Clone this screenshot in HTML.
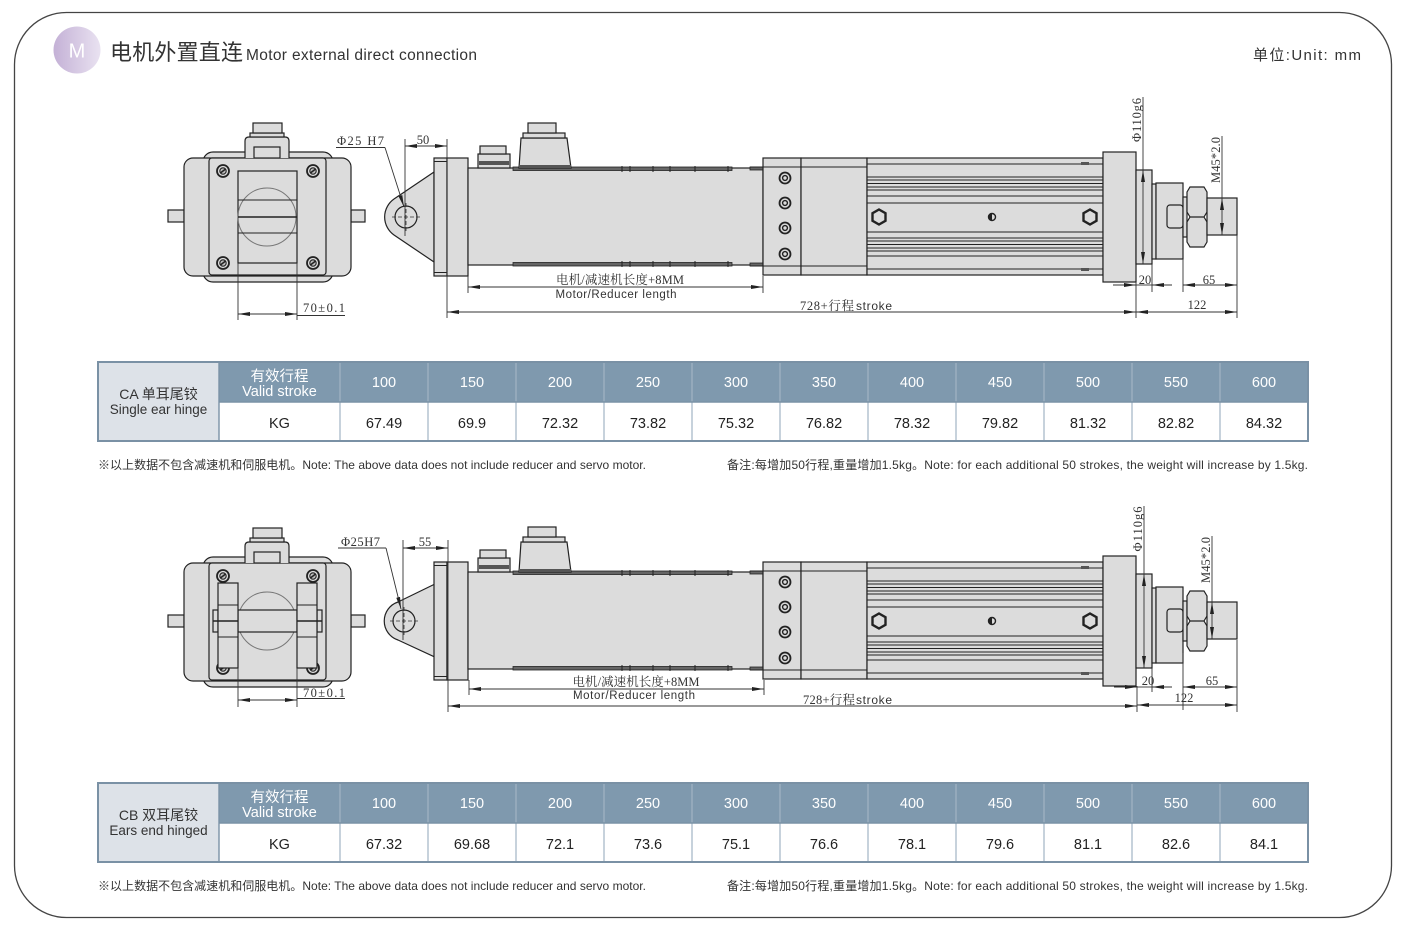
<!DOCTYPE html>
<html><head><meta charset="utf-8">
<style>
html,body{margin:0;padding:0;background:#fff;}
svg{display:block;}
.p{fill:#dcdcdc;stroke:#222;stroke-width:1.2;}
.l{stroke:#222;stroke-width:1;fill:none;}
.d{stroke:#333;stroke-width:0.9;fill:none;}
.t{font-family:"Liberation Serif","Noto Serif CJK SC",serif;font-size:12.5px;fill:#333;}
.s{font-family:"Liberation Sans","Noto Sans CJK SC",sans-serif;}
.hw{font-family:"Liberation Sans","Noto Sans CJK SC",sans-serif;font-size:14.5px;fill:#fff;text-anchor:middle;}
.dv{font-family:"Liberation Sans","Noto Sans CJK SC",sans-serif;font-size:14.5px;fill:#222;text-anchor:middle;}
.nt{font-family:"Liberation Sans","Noto Sans CJK SC",sans-serif;font-size:12px;fill:#333;}
</style></head><body>
<svg width="1408" height="932" viewBox="0 0 1408 932" xmlns="http://www.w3.org/2000/svg">
<defs>
<linearGradient id="gm" x1="0" y1="0" x2="1" y2="0"><stop offset="0" stop-color="#c4b1d6"/><stop offset="1" stop-color="#e9e2f1"/></linearGradient>
<marker id="ar" viewBox="0 0 12 4" refX="12" refY="2" markerWidth="12" markerHeight="4" markerUnits="userSpaceOnUse" orient="auto-start-reverse"><path d="M0,0L12,2L0,4Z" fill="#222"/></marker>
<g id="ss"><circle r="5.5" fill="#dcdcdc" stroke="#222" stroke-width="1.8"/><circle r="2.4" fill="none" stroke="#222" stroke-width="1.4"/></g>
<g id="se"><circle r="6" fill="#dcdcdc" stroke="#222" stroke-width="1.8"/><circle r="3.2" fill="#bbb" stroke="#222" stroke-width="1.1"/><line x1="-2.6" y1="2" x2="2.6" y2="-2" stroke="#222" stroke-width="1.5"/></g>
<polygon id="hx" points="0,-7.5 6.5,-3.75 6.5,3.75 0,7.5 -6.5,3.75 -6.5,-3.75" fill="#dcdcdc" stroke="#222" stroke-width="2.4"/>

<g id="eb">
<rect x="168" y="210" width="16" height="12" class="p"/>
<rect x="351" y="210" width="14" height="12" class="p"/>
<rect x="203" y="152" width="130" height="130" rx="10" class="p"/>
<rect x="184" y="158" width="167" height="118" rx="9" class="p"/>
<rect x="209" y="158" width="117" height="117" rx="3" class="p"/>
<path d="M245,158 L245,141 Q245,137 249,137 L285,137 Q289,137 289,141 L289,158" class="p"/>
<rect x="254" y="147" width="26" height="11" class="p"/>
<rect x="250" y="133" width="34" height="4" class="p"/>
<rect x="253" y="123" width="29" height="10" class="p"/>
<use href="#se" x="223" y="171"/><use href="#se" x="313" y="171"/>
<use href="#se" x="223" y="263"/><use href="#se" x="313" y="263"/>
</g>

<g id="sv">
<rect x="434" y="158" width="13" height="118" class="p"/>
<path d="M434,161.5H447 M434,272.5H447" class="l"/>
<rect x="447" y="158" width="21" height="118" class="p"/>
<rect x="468" y="168" width="295" height="97" class="p"/>
<rect x="513" y="167" width="219" height="3.5" fill="#666" stroke="#222" stroke-width="0.8"/>
<rect x="513" y="262.5" width="219" height="3.5" fill="#666" stroke="#222" stroke-width="0.8"/>
<rect x="750" y="167" width="13" height="3" fill="#666" stroke="#222" stroke-width="0.8"/>
<rect x="750" y="263" width="13" height="3" fill="#666" stroke="#222" stroke-width="0.8"/>
<path d="M622,166V172 M630,166V172 M653,166V172 M670,166V172 M695,166V172 M728,166V172 M622,261V267 M630,261V267 M653,261V267 M670,261V267 M695,261V267 M728,261V267" class="l"/>
<rect x="478" y="154" width="32" height="14" class="p"/>
<rect x="480" y="146" width="26" height="8" class="p"/>
<rect x="479" y="161" width="30" height="4" fill="#555"/>
<path d="M519,168 L521,138 L567,138 L571,168 Z" class="p"/>
<rect x="523" y="133" width="42" height="5" class="p"/>
<rect x="528" y="123" width="28" height="10" class="p"/>
<rect x="519" y="165" width="52" height="3" fill="#555"/>
<rect x="763" y="158" width="38" height="117" class="p"/>
<use href="#ss" x="785" y="178"/><use href="#ss" x="785" y="203"/>
<use href="#ss" x="785" y="228"/><use href="#ss" x="785" y="254"/>
<rect x="801" y="158" width="66" height="117" class="p"/>
<path d="M750,167H867 M750,266H867" class="l"/>
<rect x="867" y="158" width="236" height="117" class="p"/>
<path class="l" d="M867,164H1103 M867,177H1103 M867,180H1103 M867,183.5H1103 M867,187H1103 M867,190H1103 M867,196H1103 M867,203H1103 M867,232H1103 M867,238H1103 M867,241H1103 M867,244.5H1103 M867,248H1103 M867,251H1103 M867,256H1103 M867,269H1103"/>
<rect x="1081" y="162" width="8" height="3" fill="#555"/>
<rect x="1081" y="268" width="8" height="3" fill="#555"/>
<use href="#hx" x="879" y="217"/><use href="#hx" x="1090" y="217"/>
<circle cx="992" cy="217" r="3.5" fill="#dcdcdc" stroke="#222" stroke-width="1.4"/>
<path d="M992,213.5 A3.5,3.5 0 0 0 992,220.5 Z" fill="#222"/>
<rect x="1103" y="152" width="33" height="130" class="p"/>
<rect x="1136" y="170" width="16" height="94" class="p"/>
<rect x="1152" y="184" width="4" height="75" class="p"/>
<rect x="1156" y="183" width="27" height="76" class="p"/>
<rect x="1167" y="205" width="16" height="23" rx="3" class="p"/>
<rect x="1183" y="197" width="4" height="40" class="p"/>
<path d="M1190,187 L1204,187 L1207,192 L1207,212 L1204,217 L1207,222 L1207,242 L1204,247 L1190,247 L1187,242 L1187,222 L1190,217 L1187,212 L1187,192 Z M1190,217H1204" class="p"/>
<rect x="1207" y="198" width="30" height="37" class="p"/>
</g>

<g id="tb">
<rect x="98" y="362" width="1210" height="79" fill="#fff"/>
<rect x="219" y="362" width="1089" height="40" fill="#7f99ae"/>
<rect x="98" y="362" width="121" height="79" fill="#dde2e8"/>
<path d="M340,362V441 M428,362V441 M516,362V441 M604,362V441 M692,362V441 M780,362V441 M868,362V441 M956,362V441 M1044,362V441 M1132,362V441 M1220,362V441" stroke="#a2b4c4" stroke-width="1.2"/>
<path d="M219,362V441 M219,402H1308" stroke="#7a92a6" stroke-width="1.4"/>
<rect x="98" y="362" width="1210" height="79" fill="none" stroke="#7a91a5" stroke-width="2"/>
</g>
</defs>

<rect x="14.5" y="12.5" width="1377" height="905" rx="52" fill="none" stroke="#444" stroke-width="1.3"/>

<circle cx="77" cy="50" r="23.5" fill="url(#gm)"/>
<text x="77" y="57.5" text-anchor="middle" class="s" font-size="20" fill="#fff">M</text>
<text x="110" y="60" class="s" font-size="22" fill="#333" textLength="133">电机外置直连</text>
<text x="246" y="60" class="s" font-size="15.5" fill="#333" textLength="231">Motor external direct connection</text>
<text x="1361" y="60" text-anchor="end" class="s" font-size="15" fill="#333" textLength="108">单位:Unit: mm</text>

<use href="#eb"/>
<rect x="238" y="171" width="59" height="92" class="p"/>
<circle cx="267" cy="217" r="29" fill="none" stroke="#777" stroke-width="1"/>
<path d="M238,200H297 M238,233H297" class="l"/>
<path d="M238,217H297" stroke="#222" stroke-width="1.6"/>

<path d="M434,172 L394,199 A22,22 0 0 0 394,235 L434,262 Z" class="p"/>
<circle cx="406" cy="217" r="11" fill="#dcdcdc" stroke="#222" stroke-width="1.2"/>
<path d="M392,217H420 M406,203V231" stroke="#333" stroke-width="0.8" stroke-dasharray="4,2"/>
<use href="#sv"/>

<g class="d">
<path d="M238,263V320 M297,263V320"/>
<line x1="238" y1="314" x2="297" y2="314" marker-start="url(#ar)" marker-end="url(#ar)"/>
<path d="M297,315.5H345"/>
<path d="M336,147.5H385"/>
<line x1="385" y1="147.5" x2="404" y2="207" marker-end="url(#ar)"/>
<path d="M405,139V236"/>
<line x1="405" y1="146" x2="447" y2="146" marker-start="url(#ar)" marker-end="url(#ar)"/>
<path d="M447,139V318"/>
<path d="M468,276V293 M763,276V293"/>
<line x1="468" y1="287" x2="763" y2="287" marker-start="url(#ar)" marker-end="url(#ar)"/>
<line x1="447" y1="312" x2="1136" y2="312" marker-start="url(#ar)" marker-end="url(#ar)"/>
<path d="M1136,282V318 M1152,264V292 M1183,259V292 M1237,235V318"/>
<line x1="1113" y1="285" x2="1136" y2="285" marker-end="url(#ar)"/>
<line x1="1172" y1="285" x2="1152" y2="285" marker-end="url(#ar)"/>
<line x1="1136" y1="285" x2="1152" y2="285"/>
<line x1="1183" y1="285" x2="1237" y2="285" marker-start="url(#ar)" marker-end="url(#ar)"/>
<line x1="1136" y1="312" x2="1237" y2="312" marker-start="url(#ar)" marker-end="url(#ar)"/>
<path d="M1143,97V170"/>
<line x1="1143" y1="170" x2="1143" y2="264" marker-start="url(#ar)" marker-end="url(#ar)"/>
<path d="M1222,136V198"/>
<line x1="1222" y1="198" x2="1222" y2="235" marker-start="url(#ar)" marker-end="url(#ar)"/>
</g>
<text x="337" y="145" class="t" textLength="47">Φ25 H7</text>
<text x="423" y="144" class="t" text-anchor="middle">50</text>
<text x="303" y="312" class="t" textLength="42">70±0.1</text>
<text x="620" y="284" class="t" text-anchor="middle" textLength="128">电机/减速机长度+8MM</text>
<text x="616" y="298" class="s" font-size="11.5" fill="#333" text-anchor="middle" textLength="121">Motor/Reducer length</text>
<text x="800" y="310" class="t" textLength="54">728+行程</text>
<text x="856" y="310" class="s" font-size="12" fill="#333" textLength="36">stroke</text>
<text x="1145" y="284" class="t" text-anchor="middle">20</text>
<text x="1209" y="284" class="t" text-anchor="middle">65</text>
<text x="1197" y="309" class="t" text-anchor="middle">122</text>
<text transform="translate(1141,120) rotate(-90)" class="t" text-anchor="middle" textLength="44">Φ110g6</text>
<text transform="translate(1220,160) rotate(-90)" class="t" text-anchor="middle" textLength="46">M45*2.0</text>

<use href="#tb"/>
<text x="158.5" y="399" class="s" font-size="14" fill="#333" text-anchor="middle">CA 单耳尾铰</text>
<text x="158.5" y="414" class="s" font-size="13.5" fill="#333" text-anchor="middle">Single ear hinge</text>
<text x="279.5" y="381" class="hw" font-size="14">有效行程</text>
<text x="279.5" y="396" class="hw" font-size="13">Valid stroke</text>
<text x="279.5" y="428" class="dv">KG</text>
<text x="384" y="387" class="hw">100</text><text x="472" y="387" class="hw">150</text><text x="560" y="387" class="hw">200</text><text x="648" y="387" class="hw">250</text><text x="736" y="387" class="hw">300</text><text x="824" y="387" class="hw">350</text><text x="912" y="387" class="hw">400</text><text x="1000" y="387" class="hw">450</text><text x="1088" y="387" class="hw">500</text><text x="1176" y="387" class="hw">550</text><text x="1264" y="387" class="hw">600</text>
<text x="384" y="428" class="dv">67.49</text><text x="472" y="428" class="dv">69.9</text><text x="560" y="428" class="dv">72.32</text><text x="648" y="428" class="dv">73.82</text><text x="736" y="428" class="dv">75.32</text><text x="824" y="428" class="dv">76.82</text><text x="912" y="428" class="dv">78.32</text><text x="1000" y="428" class="dv">79.82</text><text x="1088" y="428" class="dv">81.32</text><text x="1176" y="428" class="dv">82.82</text><text x="1264" y="428" class="dv">84.32</text>
<text x="98" y="469" class="nt" textLength="548">※以上数据不包含减速机和伺服电机。Note: The above data does not include reducer and servo motor.</text>
<text x="1308" y="469" class="nt" text-anchor="end" textLength="581">备注:每增加50行程,重量增加1.5kg。Note: for each additional 50 strokes, the weight will increase by 1.5kg.</text>

<use href="#eb" transform="translate(0,405)"/>
<circle cx="267" cy="621" r="29" fill="#dcdcdc" stroke="#777" stroke-width="1"/>
<rect x="238" y="610" width="59" height="22" class="p"/>
<rect x="213" y="610" width="5" height="22" class="p"/>
<rect x="317" y="610" width="5" height="22" class="p"/>
<rect x="218" y="583" width="20" height="85" class="p"/>
<rect x="297" y="583" width="20" height="85" class="p"/>
<path d="M218,605H238 M218,637H238 M297,605H317 M297,637H317" class="l"/>
<path d="M213,621H238 M297,621H322" stroke="#222" stroke-width="1.5"/>

<path d="M437,583 L398,602 A20,20 0 0 0 398,640 L437,658 Z" class="p"/>
<circle cx="404" cy="621" r="11" fill="#dcdcdc" stroke="#222" stroke-width="1.2"/>
<path d="M390,621H418 M404,607V635" stroke="#333" stroke-width="0.8" stroke-dasharray="4,2"/>
<use href="#sv" transform="translate(0,404)"/>

<g class="d">
<path d="M238,668V707 M297,668V707"/>
<line x1="238" y1="700" x2="297" y2="700" marker-start="url(#ar)" marker-end="url(#ar)"/>
<path d="M297,698.5H345"/>
<path d="M338,548H386"/>
<line x1="386" y1="548" x2="401" y2="609" marker-end="url(#ar)"/>
<path d="M403,540V640"/>
<line x1="403" y1="548" x2="448" y2="548" marker-start="url(#ar)" marker-end="url(#ar)"/>
<path d="M448,540V712"/>
<path d="M469,680V695 M764,680V695"/>
<line x1="469" y1="689" x2="764" y2="689" marker-start="url(#ar)" marker-end="url(#ar)"/>
<line x1="448" y1="706" x2="1137" y2="706" marker-start="url(#ar)" marker-end="url(#ar)"/>
<path d="M1137,686V712 M1152,668V692 M1183,653V710 M1237,640V712"/>
<line x1="1114" y1="687" x2="1137" y2="687" marker-end="url(#ar)"/>
<line x1="1172" y1="687" x2="1152" y2="687" marker-end="url(#ar)"/>
<line x1="1137" y1="687" x2="1152" y2="687"/>
<line x1="1183" y1="687" x2="1237" y2="687" marker-start="url(#ar)" marker-end="url(#ar)"/>
<line x1="1137" y1="705" x2="1237" y2="705" marker-start="url(#ar)" marker-end="url(#ar)"/>
<path d="M1144,506V574"/>
<line x1="1144" y1="574" x2="1144" y2="668" marker-start="url(#ar)" marker-end="url(#ar)"/>
<path d="M1212,536V602"/>
<line x1="1212" y1="602" x2="1212" y2="639" marker-start="url(#ar)" marker-end="url(#ar)"/>
</g>
<text x="341" y="546" class="t" textLength="39">Φ25H7</text>
<text x="425" y="546" class="t" text-anchor="middle">55</text>
<text x="303" y="697" class="t" textLength="42">70±0.1</text>
<text x="636" y="686" class="t" text-anchor="middle" textLength="127">电机/减速机长度+8MM</text>
<text x="634" y="699" class="s" font-size="11.5" fill="#333" text-anchor="middle" textLength="122">Motor/Reducer length</text>
<text x="803" y="704" class="t" textLength="52">728+行程</text>
<text x="856" y="704" class="s" font-size="12" fill="#333" textLength="36">stroke</text>
<text x="1148" y="685" class="t" text-anchor="middle">20</text>
<text x="1212" y="685" class="t" text-anchor="middle">65</text>
<text x="1184" y="702" class="t" text-anchor="middle">122</text>
<text transform="translate(1142,529) rotate(-90)" class="t" text-anchor="middle" textLength="45">Φ110g6</text>
<text transform="translate(1210,560) rotate(-90)" class="t" text-anchor="middle" textLength="46">M45*2.0</text>

<use href="#tb" transform="translate(0,421)"/>
<text x="158.5" y="820" class="s" font-size="14" fill="#333" text-anchor="middle">CB 双耳尾铰</text>
<text x="158.5" y="835" class="s" font-size="13.5" fill="#333" text-anchor="middle">Ears end hinged</text>
<text x="279.5" y="802" class="hw" font-size="14">有效行程</text>
<text x="279.5" y="817" class="hw" font-size="13">Valid stroke</text>
<text x="279.5" y="849" class="dv">KG</text>
<text x="384" y="808" class="hw">100</text><text x="472" y="808" class="hw">150</text><text x="560" y="808" class="hw">200</text><text x="648" y="808" class="hw">250</text><text x="736" y="808" class="hw">300</text><text x="824" y="808" class="hw">350</text><text x="912" y="808" class="hw">400</text><text x="1000" y="808" class="hw">450</text><text x="1088" y="808" class="hw">500</text><text x="1176" y="808" class="hw">550</text><text x="1264" y="808" class="hw">600</text>
<text x="384" y="849" class="dv">67.32</text><text x="472" y="849" class="dv">69.68</text><text x="560" y="849" class="dv">72.1</text><text x="648" y="849" class="dv">73.6</text><text x="736" y="849" class="dv">75.1</text><text x="824" y="849" class="dv">76.6</text><text x="912" y="849" class="dv">78.1</text><text x="1000" y="849" class="dv">79.6</text><text x="1088" y="849" class="dv">81.1</text><text x="1176" y="849" class="dv">82.6</text><text x="1264" y="849" class="dv">84.1</text>
<text x="98" y="890" class="nt" textLength="548">※以上数据不包含减速机和伺服电机。Note: The above data does not include reducer and servo motor.</text>
<text x="1308" y="890" class="nt" text-anchor="end" textLength="581">备注:每增加50行程,重量增加1.5kg。Note: for each additional 50 strokes, the weight will increase by 1.5kg.</text>
</svg>
</body></html>
